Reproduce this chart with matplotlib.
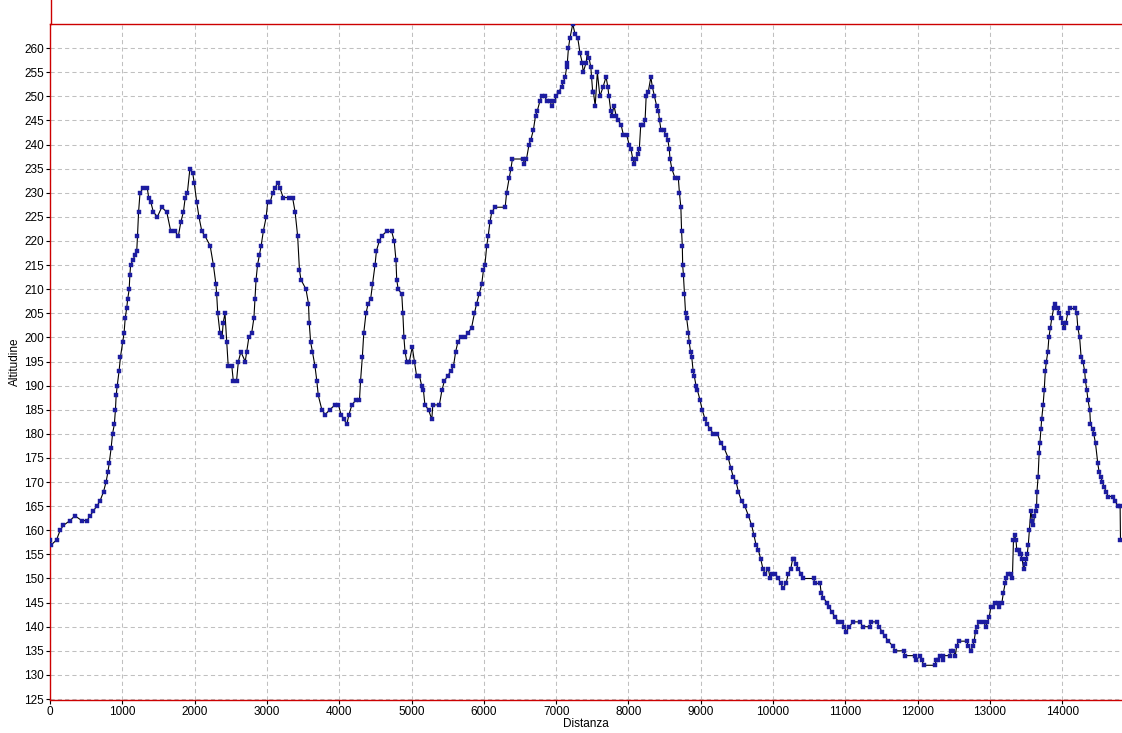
import matplotlib
matplotlib.use('Agg')
import matplotlib.pyplot as plt
from matplotlib.lines import Line2D

# elevation profile (distance in m, altitude in m)
distanza = [
    0, 20, 90, 140, 185, 275, 345, 440, 510, 555, 600, 645, 690, 740, 775, 800,
    820, 845, 865, 890, 905, 915, 930, 955, 975, 1005, 1025, 1040, 1060, 1075,
    1095, 1105, 1115, 1145, 1175, 1200, 1210, 1225, 1245, 1290, 1345, 1365, 1395,
    1430, 1485, 1545, 1615, 1670, 1730, 1775, 1810, 1845, 1870, 1900, 1935, 1975,
    1995, 2030, 2060, 2100, 2145, 2215, 2260, 2295, 2305, 2320, 2350, 2380, 2395,
    2420, 2445, 2465, 2515, 2535, 2580, 2605, 2640, 2700, 2720, 2750, 2790, 2820,
    2835, 2850, 2870, 2895, 2920, 2950, 2990, 3010, 3045, 3080, 3110, 3150, 3180,
    3225, 3310, 3355, 3390, 3425, 3450, 3470, 3540, 3575, 3585, 3605, 3630, 3665,
    3690, 3710, 3760, 3805, 3870, 3940, 3990, 4025, 4065, 4105, 4135, 4175, 4230,
    4280, 4295, 4320, 4340, 4370, 4400, 4435, 4460, 4495, 4515, 4555, 4585, 4655,
    4725, 4760, 4785, 4795, 4815, 4865, 4880, 4895, 4910, 4935, 4970, 5010, 5040,
    5070, 5110, 5140, 5165, 5185, 5235, 5280, 5295, 5385, 5420, 5455, 5500, 5540,
    5580, 5610, 5640, 5680, 5740, 5785, 5830, 5870, 5900, 5935, 5970, 5995, 6015,
    6040, 6060, 6085, 6110, 6155, 6295, 6315, 6350, 6375, 6395, 6545, 6560, 6590,
    6625, 6650, 6685, 6715, 6740, 6775, 6800, 6845, 6870, 6915, 6940, 6975, 7005,
    7040, 7075, 7100, 7125, 7145, 7155, 7170, 7190, 7230, 7260, 7300, 7330, 7360,
    7375, 7415, 7430, 7455, 7480, 7490, 7505, 7515, 7540, 7570, 7605, 7650, 7690,
    7715, 7730, 7755, 7770, 7800, 7830, 7860, 7900, 7930, 7975, 8010, 8035, 8060,
    8080, 8105, 8130, 8150, 8170, 8205, 8230, 8245, 8275, 8310, 8330, 8360, 8390,
    8415, 8430, 8450, 8485, 8520, 8545, 8565, 8575, 8600, 8645, 8690, 8705, 8725,
    8735, 8745, 8750, 8760, 8775, 8790, 8805, 8830, 8840, 8860, 8875, 8895, 8910,
    8935, 8955, 8990, 9020, 9060, 9090, 9130, 9175, 9230, 9280, 9325, 9380, 9415,
    9450, 9490, 9520, 9565, 9610, 9660, 9705, 9735, 9765, 9795, 9830, 9860, 9890,
    9935, 9960, 9990, 10030, 10075, 10105, 10140, 10180, 10210, 10245, 10270,
    10290, 10320, 10350, 10385, 10420, 10560, 10580, 10650, 10665, 10695, 10745,
    10780, 10815, 10860, 10905, 10950, 10985, 11010, 11055, 11105, 11205, 11240,
    11335, 11355, 11435, 11470, 11505, 11550, 11595, 11655, 11690, 11805, 11825,
    11965, 11975, 12035, 12055, 12090, 12240, 12255, 12285, 12310, 12350, 12355,
    12445, 12455, 12495, 12520, 12540, 12565, 12680, 12700, 12740, 12760, 12780,
    12800, 12815, 12855, 12910, 12945, 12965, 12990, 13010, 13045, 13070, 13110,
    13130, 13165, 13185, 13210, 13225, 13255, 13290, 13310, 13325, 13340, 13360,
    13370, 13395, 13410, 13430, 13445, 13465, 13485, 13500, 13515, 13530, 13545,
    13565, 13585, 13600, 13615, 13630, 13645, 13650, 13665, 13680, 13690, 13705,
    13715, 13735, 13750, 13765, 13780, 13800, 13815, 13835, 13855, 13880, 13905,
    13935, 13960, 13985, 14005, 14030, 14050, 14075, 14105, 14180, 14200, 14215,
    14240, 14260, 14285, 14310, 14320, 14340, 14355, 14380, 14390, 14420, 14435,
    14460, 14490, 14510, 14535, 14555, 14580, 14605, 14635, 14700, 14730, 14775,
    14800, 14805,
]
altitudine = [
    158, 157, 158, 160, 161, 162, 163, 162, 162, 163, 164, 165, 166, 168, 170, 172,
    174, 177, 180, 182, 185, 188, 190, 193, 196, 199, 201, 204, 206, 208,
    210, 213, 215, 216, 217, 218, 221, 226, 230, 231, 231, 229, 228,
    226, 225, 227, 226, 222, 222, 221, 224, 226, 229, 230, 235, 234,
    232, 228, 225, 222, 221, 219, 215, 211, 209, 205, 201, 200, 203,
    205, 199, 194, 194, 191, 191, 195, 197, 195, 197, 200, 201, 204,
    208, 212, 215, 217, 219, 222, 225, 228, 228, 230, 231, 232, 231,
    229, 229, 229, 226, 221, 214, 212, 210, 207, 203, 199, 197, 194,
    191, 188, 185, 184, 185, 186, 186, 184, 183, 182, 184, 186, 187,
    187, 191, 196, 201, 205, 207, 208, 211, 215, 218, 220, 221, 222,
    222, 220, 216, 212, 210, 209, 205, 200, 197, 195, 195, 198, 195,
    192, 192, 190, 189, 186, 185, 183, 186, 186, 189, 191, 192, 193,
    194, 197, 199, 200, 200, 201, 202, 205, 207, 209, 211, 214, 215,
    219, 221, 224, 226, 227, 227, 230, 233, 235, 237, 237, 236, 237,
    240, 241, 243, 246, 247, 249, 250, 250, 249, 249, 248, 249, 250,
    251, 252, 253, 254, 256, 257, 260, 262, 265, 263, 262, 259, 257,
    255, 257, 259, 258, 256, 254, 251, 251, 248, 255, 250, 252, 254,
    252, 250, 247, 246, 248, 246, 245, 244, 242, 242, 240, 239, 237,
    236, 237, 238, 239, 244, 244, 245, 250, 251, 254, 252, 250, 248,
    247, 245, 243, 243, 242, 241, 239, 237, 235, 233, 233, 230, 227,
    222, 219, 215, 213, 209, 205, 204, 201, 199, 197, 196, 193, 192,
    190, 189, 187, 185, 183, 182, 181, 180, 180, 178, 177, 175, 173,
    171, 170, 168, 166, 165, 163, 161, 159, 157, 156, 154, 152, 151,
    152, 150, 151, 151, 150, 149, 148, 149, 151, 152, 154,
    154, 153, 152, 151, 150, 150, 149, 149, 147, 146, 145,
    144, 143, 142, 141, 141, 140, 139, 140, 141, 141, 140,
    140, 141, 141, 140, 139, 138, 137, 136, 135, 135, 134,
    134, 133, 134, 133, 132, 132, 133, 133, 134, 133, 134,
    134, 135, 135, 134, 136, 137, 137, 136, 135, 136, 137,
    139, 140, 141, 141, 140, 141, 142, 144, 144, 145, 145,
    144, 145, 147, 149, 150, 151, 151, 150, 158, 159, 158,
    156, 156, 155, 155, 154, 152, 153, 154, 155, 157, 160,
    164, 162, 161, 163, 164, 165, 168, 171, 176, 178, 181,
    183, 186, 189, 193, 195, 197, 200, 202, 204, 206, 207,
    206, 205, 204, 203, 202, 203, 205, 206, 206, 205, 202,
    200, 196, 195, 193, 191, 189, 187, 185, 182, 181, 180,
    178, 174, 172, 171, 170, 169, 168, 167, 167, 166, 165,
    165, 158,
]
x_ticks = list(range(0, 15000, 1000))
y_ticks = list(range(125, 265, 5))

plt.rcParams['font.family'] = ['Liberation Sans', 'DejaVu Sans']

fig = plt.figure(figsize=(11.22, 7.33), dpi=100)
ax = fig.add_axes([50 / 1122, 33 / 733, 1072 / 1122, 676 / 733])

ax.plot(distanza, altitudine, color='black', linewidth=0.8, zorder=3,
        marker='s', markersize=2.5, markerfacecolor='#1c1ca0',
        markeredgecolor='#1c1ca0', markeredgewidth=0.3)

ax.set_xlim(0, 14826)
ax.set_ylim(124.8, 265)
ax.set_xticks(x_ticks)
ax.set_yticks(y_ticks)
ax.tick_params(labelsize=8.5, length=3, width=0.8, color='black', pad=1.5)

ax.grid(True, color='#c0c0c0', linestyle=(0, (4, 3)), linewidth=0.75)
ax.set_axisbelow(True)

for side in ('left', 'bottom', 'top'):
    ax.spines[side].set_color('#cc0000')
    ax.spines[side].set_linewidth(1.0)
ax.spines['right'].set_visible(False)

# left red line carries on above the plot area up to the top edge
fig.add_artist(Line2D([50.5 / 1122, 50.5 / 1122], [1 - 24 / 733, 1], color='#cc0000',
                      linewidth=1.0, transform=fig.transFigure))

ax.set_xlabel('Distanza', fontsize=8.5, labelpad=0)
ax.set_ylabel('Altitudine', fontsize=8.5, labelpad=2)

fig.savefig('out.png', dpi=100)
